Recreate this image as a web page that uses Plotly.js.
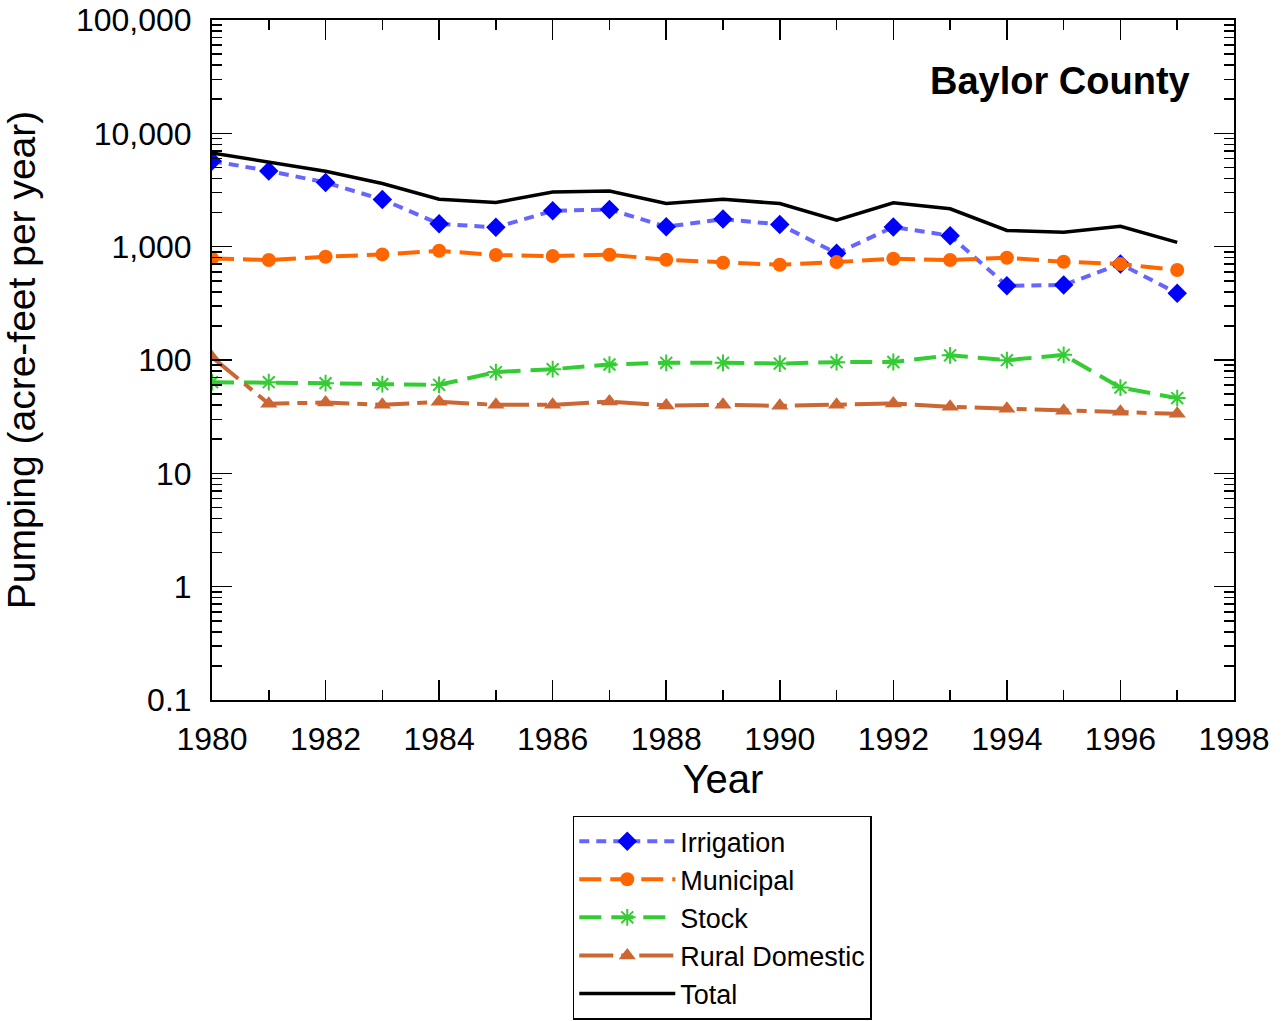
<!DOCTYPE html>
<html>
<head>
<meta charset="utf-8">
<script src="https://cdn.plot.ly/plotly-3.0.1.min.js"></script>
<style>html,body{margin:0;padding:0;background:#fff;}#chart{width:1285px;height:1021px;}</style>
</head>
<body>
<div id="chart"></div>
<script>
const years = [1980,1981,1982,1983,1984,1985,1986,1987,1988,1989,1990,1991,1992,1993,1994,1995,1996,1997];
const irrigation = [5700,4660,3680,2610,1590,1480,2070,2130,1500,1750,1570,873,1490,1250,452,459,703,388];
const municipal = [788,762,815,855,920,843,826,849,766,721,692,731,782,762,798,736,703,622];
const stock = [63.7,63.7,62.5,61.2,60.4,78.2,83,91.2,94.4,94.4,93,95.7,96,110,99.6,111,57.1,46.1];
const ruralDomestic = [106,41.1,42.2,40.2,42.8,40.2,40.2,43,39.7,40.2,39.4,40.2,41.3,38.6,37.1,35.6,34.9,33.5];
const total = [6710,5600,4630,3610,2620,2450,3030,3100,2400,2620,2400,1710,2440,2160,1390,1340,1510,1090];

const yTickVals = [0.1,1,10,100,1000,10000,100000];
const yTickText = ["0.1","1","10","100","1,000","10,000","100,000"];
const xTickVals = [1980,1982,1984,1986,1988,1990,1992,1994,1996,1998];

const yMinor = [];
yTickVals.slice(0,-1).forEach(d => { for (let k=2;k<=9;k++) yMinor.push(d*k); });

const FONT = "Liberation Sans, Arial, sans-serif";

const traces = [
  {x: years, y: irrigation, name: "Irrigation", mode: "lines+markers",
   line: {color: "#6666FF", width: 4, dash: "10px,7px"},
   marker: {symbol: "diamond", size: 15, color: "#0000FF"}},
  {x: years, y: municipal, name: "Municipal", mode: "lines+markers",
   line: {color: "#FF6600", width: 4, dash: "22px,9px"},
   marker: {symbol: "circle", size: 14, color: "#FF6600"}},
  {x: years, y: stock, name: "Stock", mode: "lines+markers",
   line: {color: "#33CC33", width: 4, dash: "22px,10px"},
   marker: {symbol: "asterisk-open", size: 14, color: "#33CC33", line: {color: "#33CC33", width: 2}}},
  {x: years, y: ruralDomestic, name: "Rural Domestic", mode: "lines+markers",
   line: {color: "#CC6633", width: 4, dash: "34px,8px,10px,8px"},
   marker: {symbol: "triangle-up", size: 15, color: "#CC6633"}},
  {x: years, y: total, name: "Total", mode: "lines",
   line: {color: "#000000", width: 3.5}}
];

const layout = {
  width: 1285, height: 1021,
  margin: {l: 212, r: 51, t: 20, b: 321, autoexpand: false},
  paper_bgcolor: "#ffffff", plot_bgcolor: "#ffffff",
  font: {family: FONT, color: "#000"},
  showlegend: true,
  legend: {x: 0.353, y: -0.17, xanchor: "left", yanchor: "top",
    bordercolor: "#000", borderwidth: 1.5, bgcolor: "#fff",
    font: {family: FONT, size: 27, color: "#000"}, itemwidth: 96, tracegroupgap: 0},
  xaxis: {
    range: [1980, 1998], type: "linear", automargin: false,
    tickmode: "array", tickvals: xTickVals, ticktext: xTickVals.map(String),
    ticks: "inside", ticklen: 20, tickwidth: 1.5, tickcolor: "#000",
    minor: {dtick: 1, tick0: 1980, ticks: "inside", ticklen: 10, tickwidth: 1.5, tickcolor: "#000", showgrid: false},
    showline: true, linecolor: "#000", linewidth: 2, mirror: "ticks",
    showgrid: false, zeroline: false,
    tickfont: {family: FONT, size: 32, color: "#000"},
    ticklabelstandoff: 10,
    title: {text: "Year", font: {family: FONT, size: 40, color: "#000"}, standoff: 6}
  },
  yaxis: {
    type: "log", range: [-1, 5], automargin: false,
    tickmode: "array", tickvals: yTickVals, ticktext: yTickText,
    ticks: "inside", ticklen: 20, tickwidth: 1.5, tickcolor: "#000",
    minor: {tickmode: "array", tickvals: yMinor, ticks: "inside", ticklen: 10, tickwidth: 1.5, tickcolor: "#000", showgrid: false},
    showline: true, linecolor: "#000", linewidth: 2, mirror: "ticks",
    showgrid: false, zeroline: false,
    tickfont: {family: FONT, size: 32, color: "#000"},
    ticklabelstandoff: 12,
    title: {text: "Pumping (acre-feet per year)", font: {family: FONT, size: 39, color: "#000"}, standoff: 30}
  },
  annotations: [
    {text: "<b>Baylor County</b>", xref: "paper", yref: "paper", x: 0.959, y: 0.91,
     xanchor: "right", yanchor: "middle", showarrow: false,
     font: {family: FONT, size: 38, color: "#000"}}
  ]
};

Plotly.newPlot("chart", traces, layout, {displayModeBar: false, staticPlot: true});
</script>
</body>
</html>
